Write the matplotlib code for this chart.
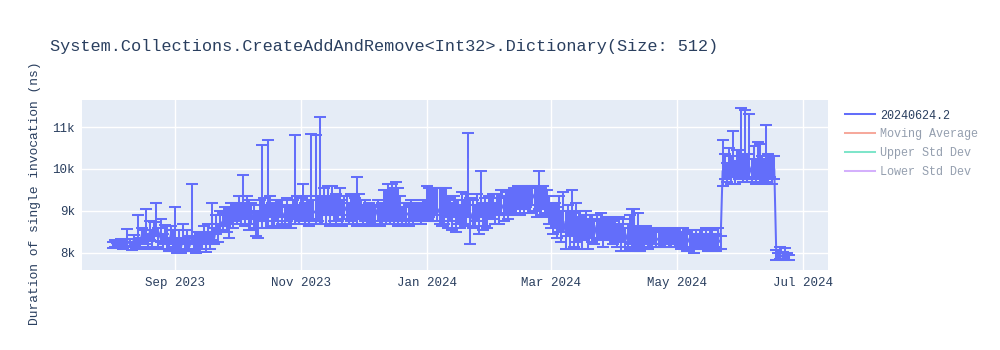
import pandas as pd
import matplotlib
matplotlib.use("Agg")
import matplotlib.pyplot as plt
import matplotlib.dates as mdates
from matplotlib.lines import Line2D

# one run per day: (mean ns, distance to upper cap, distance to lower cap)
aug_2023 = [
    (8200, 60, 80), (8230, 70, 90), (8180, 60, 70), (8210, 80, 100), (8250, 70, 80),
    (8190, 60, 90), (8260, 80, 100), (8280, 280, 120), (8220, 100, 80), (8180, 90, 100),
    (8300, 120, 150), (8240, 100, 120), (8270, 630, 130), (8200, 150, 100), (8450, 150, 200),
    (8350, 200, 150), (8400, 650, 200), (8300, 150, 150), (8550, 200, 250), (8250, 300, 150),
    (8480, 250, 200), (8600, 600, 200), (8350, 250, 200), (8500, 300, 250), (8250, 200, 150),
    (8420, 250, 200), (8300, 350, 200), (8200, 150, 150), (8450, 200, 250), (8350, 200, 200),
]
sep_2023 = [
    (8250, 850, 200), (8100, 200, 100), (8300, 250, 200), (8150, 200, 150), (8400, 300, 200),
    (8200, 150, 150), (8350, 200, 250), (8150, 250, 100), (8350, 1300, 150), (8200, 200, 150),
    (8100, 250, 100), (8300, 200, 200), (8150, 300, 120), (8250, 200, 150), (8400, 250, 200),
    (8200, 300, 180), (8450, 250, 200), (8300, 200, 200), (8500, 700, 200), (8350, 250, 150),
    (8650, 250, 200), (8500, 200, 250), (8750, 250, 200), (8650, 300, 150), (8850, 250, 200),
    (8700, 300, 200), (8800, 250, 450), (8900, 300, 200), (8750, 350, 150), (8950, 250, 200),
]
oct_2023 = [
    (8900, 250, 200), (9050, 300, 250), (8850, 300, 150), (9000, 850, 200), (8900, 300, 250),
    (9100, 250, 300), (8850, 400, 300), (8950, 250, 250), (8800, 350, 200), (8700, 250, 300),
    (8800, 200, 450), (8950, 300, 200), (8850, 1720, 250), (9000, 300, 250), (8900, 250, 300),
    (8900, 1800, 300), (9050, 300, 200), (8950, 250, 300), (8850, 300, 200), (9000, 250, 250),
    (8900, 350, 300), (9050, 200, 200), (8950, 300, 250), (8850, 250, 200), (9000, 300, 250),
    (8900, 250, 300), (8800, 300, 200), (9000, 250, 200), (8950, 1850, 250), (9050, 300, 250),
    (8900, 250, 200),
]
nov_2023 = [
    (9000, 300, 250), (9050, 600, 300), (8900, 300, 200), (9100, 250, 250), (8950, 300, 300),
    (9100, 1730, 300), (9000, 250, 250), (8950, 1850, 250), (9050, 300, 300), (9050, 2180, 350),
    (8950, 300, 250), (9100, 450, 200), (9000, 300, 300), (9150, 450, 250), (8950, 400, 300),
    (9100, 500, 200), (9000, 350, 250), (8900, 500, 200), (9050, 300, 300), (9150, 400, 250),
    (8950, 300, 300), (9000, 350, 200), (9100, 250, 300), (8900, 300, 200), (9050, 350, 300),
    (8950, 400, 250), (9000, 300, 200), (8950, 850, 300), (9100, 300, 250), (9000, 250, 200),
]
dec_2023 = [
    (8900, 250, 200), (9050, 200, 300), (8850, 300, 200), (8950, 250, 300), (8800, 300, 150),
    (8950, 200, 250), (8900, 250, 200), (9050, 200, 300), (8850, 300, 200), (8950, 250, 250),
    (9000, 500, 250), (8900, 600, 200), (9100, 550, 300), (8950, 500, 250), (9050, 600, 300),
    (8900, 650, 200), (9050, 650, 250), (8950, 600, 300), (9050, 300, 200), (8850, 250, 150),
    (9000, 200, 250), (8900, 300, 200), (8950, 250, 300), (9050, 200, 250), (8900, 250, 200),
    (9000, 200, 250), (8950, 250, 200), (9050, 150, 300), (8900, 250, 200), (8950, 300, 200),
    (9000, 250, 250),
]
jan_2024 = [
    (9000, 600, 200), (9100, 450, 250), (8950, 600, 200), (9050, 500, 300), (9150, 400, 250),
    (8950, 600, 200), (9050, 500, 350), (8900, 650, 250), (9000, 550, 300), (9100, 450, 250),
    (8950, 400, 350), (9000, 300, 250), (8850, 350, 300), (9050, 300, 200), (8900, 350, 400),
    (9000, 250, 300), (8850, 300, 250), (9100, 350, 400), (8950, 300, 250), (9000, 400, 350),
    (9150, 1700, 300), (8800, 500, 600), (8950, 300, 350), (8900, 250, 250), (9050, 350, 300),
    (8850, 300, 400), (9050, 900, 200), (8900, 300, 350), (8950, 350, 300), (8850, 300, 250),
    (9000, 350, 200),
]
feb_2024 = [
    (9000, 300, 200), (9050, 350, 250), (8950, 250, 250), (9100, 300, 200), (9000, 300, 300),
    (9150, 350, 250), (9050, 300, 300), (9200, 300, 250), (9100, 350, 300), (9250, 250, 300),
    (9150, 350, 250), (9300, 250, 350), (9200, 300, 300), (9350, 250, 300), (9250, 300, 350),
    (9350, 250, 300), (9200, 350, 250), (9400, 200, 300), (9300, 300, 350), (9250, 350, 300),
    (9400, 200, 250), (9300, 300, 300), (9200, 350, 350), (9350, 600, 300), (9250, 300, 350),
    (9350, 250, 300), (9200, 300, 250), (9150, 350, 300), (9050, 300, 350),
]
mar_2024 = [
    (8900, 300, 300), (8750, 400, 300), (8850, 350, 250), (8650, 450, 300), (8800, 550, 300),
    (8600, 400, 350), (8750, 700, 250), (8500, 500, 400), (8650, 500, 250), (8450, 550, 350),
    (8700, 800, 300), (8550, 400, 400), (8600, 600, 350), (8450, 400, 350), (8650, 350, 300),
    (8500, 300, 400), (8550, 350, 250), (8700, 300, 300), (8450, 350, 350), (8600, 300, 250),
    (8550, 350, 300), (8450, 300, 250), (8650, 250, 300), (8500, 300, 200), (8600, 350, 250),
    (8450, 300, 300), (8550, 250, 250), (8650, 200, 300), (8500, 300, 200), (8600, 250, 300),
    (8450, 300, 250),
]
apr_2024 = [
    (8550, 250, 300), (8400, 300, 250), (8600, 250, 300), (8350, 350, 300), (8500, 300, 250),
    (8300, 300, 250), (8450, 250, 300), (8550, 350, 350), (8400, 650, 300), (8500, 550, 350),
    (8350, 300, 300), (8450, 500, 400), (8300, 250, 250), (8400, 200, 300), (8350, 250, 200),
    (8450, 200, 250), (8300, 250, 200), (8400, 150, 250), (8350, 200, 200), (8450, 150, 250),
    (8300, 200, 150), (8350, 250, 200), (8400, 150, 250), (8300, 200, 150), (8350, 250, 200),
    (8400, 150, 200), (8300, 200, 150), (8350, 150, 200), (8450, 150, 250), (8350, 200, 200),
]
may_2024 = [
    (8300, 200, 150), (8350, 150, 200), (8250, 250, 150), (8400, 200, 250), (8300, 150, 150),
    (8250, 250, 200), (8350, 200, 250), (8300, 150, 150), (8200, 250, 200), (8350, 200, 250),
    (8250, 150, 150), (8300, 250, 200), (8400, 150, 250), (8250, 200, 150), (8300, 300, 200),
    (8200, 250, 150), (8350, 200, 250), (8250, 300, 200), (8300, 150, 150), (8200, 250, 150),
    (8300, 300, 200), (8250, 150, 150), (9950, 750, 350), (10050, 300, 300), (9900, 250, 200),
    (10100, 400, 250), (9950, 350, 300), (10000, 900, 200), (9900, 300, 250), (10100, 350, 300),
    (10000, 450, 250),
]
jun_2024 = [
    (10050, 1400, 300), (9950, 350, 250), (10100, 1300, 300), (9950, 400, 250), (10050, 1250, 300),
    (9900, 350, 200), (10000, 550, 250), (9950, 300, 300), (10050, 600, 300), (9950, 650, 250),
    (10000, 300, 300), (9900, 350, 200), (10050, 1000, 350), (9950, 400, 300), (10050, 250, 250),
    (9950, 350, 300), (10000, 300, 250), (7920, 150, 80), (7900, 100, 60), (7950, 180, 100),
    (7900, 120, 60), (7920, 200, 80), (7900, 100, 60), (7880, 80, 50),
]

month_starts = ["2023-08-02", "2023-09-01", "2023-10-01", "2023-11-01", "2023-12-01",
                "2024-01-01", "2024-02-01", "2024-03-01", "2024-04-01", "2024-05-01",
                "2024-06-01"]
month_rows = [aug_2023, sep_2023, oct_2023, nov_2023, dec_2023, jan_2024, feb_2024,
              mar_2024, apr_2024, may_2024, jun_2024]

series_name = "20240624.2"
legend_names = [series_name, "Moving Average", "Upper Std Dev", "Lower Std Dev"]
legend_colors = ["#636EFA", "#EF553B", "#00CC96", "#AB63FA"]

title = "System.Collections.CreateAddAndRemove<Int32>.Dictionary(Size: 512)"
y_label = "Duration of single invocation (ns)"

parts = []
for start, rows in zip(month_starts, month_rows):
    part = pd.DataFrame(rows, columns=["mean", "hi", "lo"])
    part["date"] = pd.date_range(start, periods=len(rows), freq="D")
    parts.append(part)
df = pd.concat(parts, ignore_index=True)

plt.rcParams["font.family"] = ["Liberation Mono", "DejaVu Sans Mono"]
text_color = "#2a3f5f"

fig = plt.figure(figsize=(10, 3.5), dpi=100)
ax = fig.add_axes([0.082, 0.229, 0.746, 0.485])
ax.set_facecolor("#E5ECF6")

ax.errorbar(df["date"], df["mean"], yerr=[df["lo"], df["hi"]], color=legend_colors[0],
            lw=1.45, elinewidth=1.45, capsize=4, capthick=1.45, zorder=3)

ax.set_xlim(pd.Timestamp("2023-07-18"), pd.Timestamp("2024-07-13"))
ax.set_ylim(7595, 11643)
ax.set_yticks([8000, 9000, 10000, 11000])
ax.set_yticklabels(["8k", "9k", "10k", "11k"])
ax.xaxis.set_major_locator(mdates.MonthLocator(bymonth=[1, 3, 5, 7, 9, 11]))
ax.xaxis.set_major_formatter(mdates.DateFormatter("%b %Y"))

ax.grid(True, color="white", lw=1)
ax.set_axisbelow(True)
for s in ax.spines.values():
    s.set_visible(False)
ax.tick_params(length=0, labelsize=9, labelcolor=text_color, pad=5)

ax.set_ylabel(y_label, fontsize=9.4, color=text_color, va="center")
ax.yaxis.set_label_coords(-0.063, 0.45)
fig.text(0.05, 0.868, title, fontsize=12.2, color=text_color, va="center")

handles = []
for i, c in enumerate(legend_colors):
    a = 1.0 if i == 0 else 0.5
    handles.append(Line2D([], [], color=c, lw=1.45, alpha=a))
leg = ax.legend(handles, legend_names, loc="upper left", bbox_to_anchor=(0.845, 0.687),
                bbox_transform=fig.transFigure, frameon=False, fontsize=8.5,
                handlelength=2.5, handletextpad=0.45, labelspacing=0.58,
                borderaxespad=0, borderpad=0)
for i, t in enumerate(leg.get_texts()):
    t.set_color(text_color)
    if i > 0:
        t.set_alpha(0.5)

fig.savefig("out.png", dpi=100)
